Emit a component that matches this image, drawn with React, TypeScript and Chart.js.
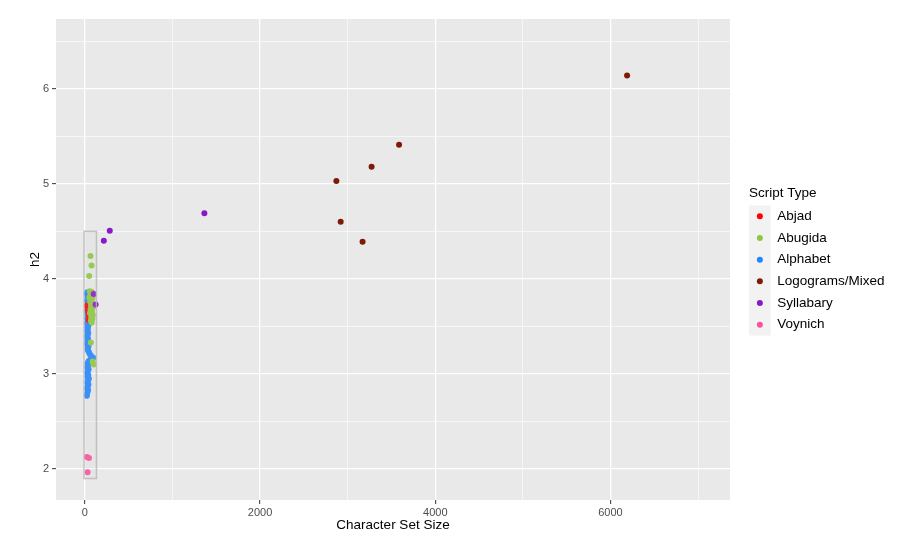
import React, { useEffect, useRef } from "react";
import { Chart, registerables } from "chart.js";

Chart.register(...registerables);

// ---------- data ----------
const SCRIPT_TYPES = ["Abjad", "Abugida", "Alphabet", "Logograms/Mixed", "Syllabary", "Voynich"];
const TYPE_COLORS = ["#FF0000", "#8FC83C", "#1F86FF", "#7F1A06", "#8A18C8", "#FF4FA0"];

const abjadX = [76, 25, 30, 45, 55, 40, 50, 35, 62];
const abjadY = [3.86, 3.72, 3.70, 3.62, 3.58, 3.57, 3.64, 3.66, 3.80];

const abugidaX = [64, 76, 49, 55, 70, 80, 62, 88, 75, 60, 85, 70, 92, 65, 80, 58, 90, 72, 85, 68, 78, 95, 50, 68, 88, 100];
const abugidaY = [4.24, 4.14, 4.03, 3.87, 3.86, 3.85, 3.82, 3.80, 3.78, 3.76, 3.74, 3.72, 3.70, 3.68, 3.66, 3.64, 3.62, 3.60, 3.58, 3.56, 3.54, 3.72, 3.80, 3.33, 3.13, 3.10];

const alphabetX = [28, 35, 22, 40, 30, 25, 45, 32, 26, 38, 24, 33, 28, 42, 26, 35, 30, 24, 40, 28, 33, 26, 38, 30, 25, 36, 28, 32, 26, 40, 30, 35, 45, 55, 70, 95, 60, 40, 30, 35, 28, 42, 33, 26, 38, 30, 45, 35, 28, 40, 32, 26, 36, 30, 24, 22];
const alphabetY = [3.86, 3.85, 3.84, 3.82, 3.80, 3.77, 3.75, 3.73, 3.71, 3.69, 3.67, 3.65, 3.63, 3.61, 3.59, 3.57, 3.55, 3.53, 3.51, 3.49, 3.47, 3.45, 3.43, 3.41, 3.39, 3.37, 3.35, 3.33, 3.31, 3.29, 3.27, 3.25, 3.23, 3.21, 3.19, 3.17, 3.15, 3.13, 3.11, 3.09, 3.07, 3.05, 3.03, 3.01, 2.99, 2.97, 2.95, 2.93, 2.91, 2.89, 2.87, 2.85, 2.83, 2.81, 2.79, 2.77];

const logogramX = [2871, 2920, 3170, 3273, 3587, 6190];
const logogramY = [5.03, 4.60, 4.39, 5.18, 5.41, 6.14];

const syllabaryX = [216, 284, 1364, 122, 100];
const syllabaryY = [4.40, 4.505, 4.69, 3.73, 3.84];

const voynichX = [23, 46, 31];
const voynichY = [2.126, 2.116, 1.965];

const X_TICKS = [0, 1000, 2000, 3000, 4000, 5000, 6000, 7000];
const Y_TICKS = [2, 2.5, 3, 3.5, 4, 4.5, 5, 5.5, 6, 6.5];
const X_RANGE = [-330, 7365];
const Y_RANGE = [1.674, 6.733];

// highlighted region (data units)
const RECT_X = [-10, 132];
const RECT_Y = [1.9, 4.5];

const SERIES_X = [abjadX, abugidaX, alphabetX, logogramX, syllabaryX, voynichX];
const SERIES_Y = [abjadY, abugidaY, alphabetY, logogramY, syllabaryY, voynichY];
const DRAW_ORDER = [4, 3, 5, 1, 2, 1];

const FONT = "'Liberation Sans', Arial, Helvetica, sans-serif";
const PANEL_BG = "#E9E9E9";

const isMajorX = (v: number) => v % 2000 === 0;
const isMajorY = (v: number) => Math.abs(v - Math.round(v)) < 1e-9;

const bgPlugin = {
  id: "panelBg",
  beforeDraw(chart: any) {
    const { ctx, chartArea } = chart;
    ctx.save();
    ctx.fillStyle = "#FFFFFF";
    ctx.fillRect(0, 0, chart.width, chart.height);
    ctx.fillStyle = PANEL_BG;
    ctx.fillRect(chartArea.left, chartArea.top, chartArea.right - chartArea.left, chartArea.bottom - chartArea.top);
    ctx.restore();
  },
};

const rectPlugin = {
  id: "regionRect",
  afterDatasetsDraw(chart: any) {
    const { ctx, scales } = chart;
    const x1 = scales.x.getPixelForValue(RECT_X[0]);
    const x2 = scales.x.getPixelForValue(RECT_X[1]);
    const y1 = scales.y.getPixelForValue(RECT_Y[1]);
    const y2 = scales.y.getPixelForValue(RECT_Y[0]);
    ctx.save();
    ctx.fillStyle = "rgba(210,210,210,0.15)";
    ctx.fillRect(x1, y1, x2 - x1, y2 - y1);
    ctx.strokeStyle = "rgba(185,185,185,0.85)";
    ctx.lineWidth = 1.5;
    ctx.strokeRect(x1, y1, x2 - x1, y2 - y1);
    ctx.restore();
  },
};

const legendPlugin = {
  id: "ggLegend",
  afterDraw(chart: any) {
    const { ctx } = chart;
    const left = 749;
    const keyW = 21.7;
    const keyH = 21.67;
    const top = 205.5;
    ctx.save();
    ctx.fillStyle = "#000000";
    ctx.font = `13.5px ${FONT}`;
    ctx.textBaseline = "middle";
    ctx.textAlign = "left";
    ctx.fillText("Script Type", left, 193.5);
    ctx.fillStyle = "#F2F2F2";
    ctx.fillRect(left, top, keyW, keyH * SCRIPT_TYPES.length);
    SCRIPT_TYPES.forEach((name, i) => {
      const cy = top + keyH * i + keyH / 2;
      ctx.beginPath();
      ctx.arc(left + keyW / 2, cy, 3, 0, Math.PI * 2);
      ctx.fillStyle = TYPE_COLORS[i];
      ctx.fill();
      ctx.fillStyle = "#000000";
      ctx.fillText(name, 777.3, cy);
    });
    ctx.restore();
  },
};

export default function App() {
  const canvasRef = useRef<HTMLCanvasElement | null>(null);

  useEffect(() => {
    const canvas = canvasRef.current;
    if (!canvas) return;
    const datasets = SCRIPT_TYPES.map((name, i) => ({
      label: name,
      data: SERIES_X[i].map((x, j) => ({ x, y: SERIES_Y[i][j] })),
      backgroundColor: TYPE_COLORS[i],
      borderWidth: 0,
      pointRadius: 3,
      pointHoverRadius: 3,
      order: DRAW_ORDER[i],
    }));

    const chart = new Chart(canvas, {
      type: "scatter",
      data: { datasets },
      plugins: [bgPlugin, rectPlugin, legendPlugin],
      options: {
        responsive: false,
        animation: false,
        devicePixelRatio: 1,
        layout: { padding: { left: 0, top: 19, right: 190, bottom: 0 } },
        plugins: { legend: { display: false }, tooltip: { enabled: false } },
        scales: {
          x: {
            type: "linear",
            min: X_RANGE[0],
            max: X_RANGE[1],
            afterBuildTicks: (scale: any) => {
              scale.ticks = X_TICKS.map((v) => ({ value: v }));
            },
            afterFit: (scale: any) => {
              scale.height = 47;
            },
            border: { display: false },
            grid: {
              color: "#FFFFFF",
              lineWidth: (c: any) => (isMajorX(c.tick.value) ? 1.3 : 0.6),
              tickColor: (c: any) => (isMajorX(c.tick.value) ? "#333333" : "rgba(0,0,0,0)"),
              tickWidth: 1,
              tickLength: 4,
              drawTicks: true,
            },
            ticks: {
              autoSkip: false,
              maxRotation: 0,
              padding: 2,
              color: "#4D4D4D",
              font: { family: FONT, size: 11 },
              callback: (v: any) => (isMajorX(Number(v)) ? String(v) : ""),
            },
            title: {
              display: true,
              text: "Character Set Size",
              color: "#000000",
              font: { family: FONT, size: 13.5 },
              padding: { top: 0, bottom: 14 },
            },
          },
          y: {
            type: "linear",
            min: Y_RANGE[0],
            max: Y_RANGE[1],
            afterBuildTicks: (scale: any) => {
              scale.ticks = Y_TICKS.map((v) => ({ value: v }));
            },
            afterFit: (scale: any) => {
              scale.width = 56;
            },
            border: { display: false },
            grid: {
              color: "#FFFFFF",
              lineWidth: (c: any) => (isMajorY(c.tick.value) ? 1.3 : 0.6),
              tickColor: (c: any) => (isMajorY(c.tick.value) ? "#333333" : "rgba(0,0,0,0)"),
              tickWidth: 1,
              tickLength: 4,
              drawTicks: true,
            },
            ticks: {
              autoSkip: false,
              padding: 3,
              color: "#4D4D4D",
              font: { family: FONT, size: 11 },
              callback: (v: any) => (isMajorY(Number(v)) ? String(v) : ""),
            },
            title: {
              display: true,
              text: "h2",
              color: "#000000",
              font: { family: FONT, size: 13.5 },
              padding: { top: 27, bottom: 0 },
            },
          },
        },
      },
    } as any);

    return () => chart.destroy();
  }, []);

  return (
    <div style={{ position: "absolute", left: 0, top: 0, width: 920, height: 547, background: "#FFFFFF" }}>
      <canvas ref={canvasRef} width={920} height={547} style={{ display: "block", width: 920, height: 547 }} />
    </div>
  );
}
